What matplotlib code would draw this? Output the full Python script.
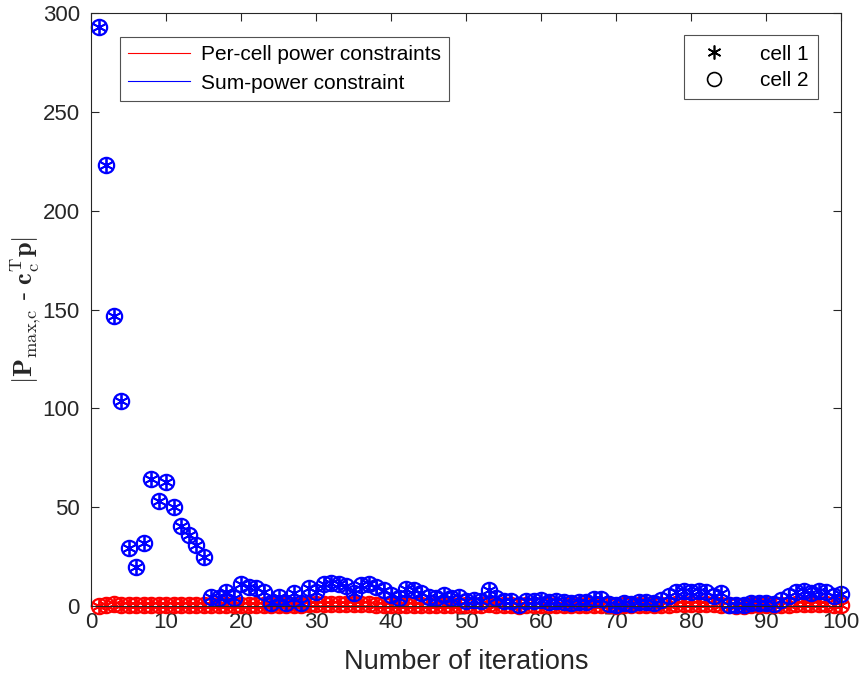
import matplotlib
matplotlib.use("Agg")
import matplotlib.pyplot as plt
import numpy as np
from matplotlib.lines import Line2D

# iterations 1..100
iterations = np.arange(1, 101)

# sum-power constraint, cell 1 / cell 2 (blue)
sum_cell1 = [293, 223, 147, 104, 29.5, 20, 32, 64.5, 53, 63,
             50, 40.5, 36, 31, 25, 4.7, 3.9, 7.3, 3.9, 11,
             9.8, 9, 7.3, 1.4, 4.7, 1.4, 6.4, 1.4, 9, 7.3,
             11, 11.5, 11, 10, 6.4, 10.5, 11, 9.8, 8, 5.6,
             3.9, 8.5, 8, 6.4, 4.7, 3.9, 5.6, 3.9, 4.7, 2.5,
             3, 2.5, 8, 4, 2.7, 2.5, 0.5, 2.7, 2.7, 3,
             2, 2.7, 2, 1.5, 2, 2, 3.5, 3.5, 1, 0.5,
             1.5, 1, 2, 2, 1.5, 3, 5, 7, 7.5, 7,
             7.5, 7, 5, 6.5, 0.5, 0.5, 0.5, 1.5, 1.5, 1.5,
             1, 3, 5, 7, 7.5, 6.5, 7.5, 7, 5, 6]
sum_cell2 = list(sum_cell1)

# per-cell power constraints, cell 1 / cell 2 (red)
per_cell1 = [0.2, 0.3, 0.9, 0.6, 0.5, 0.4, 0.6, 0.5, 0.4, 0.5,
             0.3, 0.4, 0.5, 0.4, 0.3, 0.4, 0.5, 0.4, 0.3, 0.4,
             0.5, 0.4, 0.3, 0.4, 0.5, 0.6, 0.5, 0.7, 0.8, 0.9,
             1.0, 1.0, 0.9, 1.0, 0.8, 0.9, 0.8, 0.7, 0.6, 0.5,
             0.4, 0.5, 0.4, 0.3, 0.4, 0.3, 0.4, 0.3, 0.4, 0.3,
             0.4, 0.6, 0.8, 0.7, 0.5, 0.3, 0.2, 0.3, 0.5, 0.6,
             0.4, 0.3, 0.4, 0.3, 0.4, 0.5, 0.7, 0.5, 0.3, 0.2,
             0.3, 0.4, 0.3, 0.4, 0.3, 0.4, 0.6, 0.8, 0.9, 0.9,
             1.0, 0.9, 0.8, 0.6, 0.3, 0.2, 0.2, 0.3, 0.3, 0.3,
             0.3, 0.5, 0.7, 0.9, 1.0, 0.9, 0.9, 0.8, 0.7, 0.6]
per_cell2 = list(per_cell1)

plt.rcParams['font.family'] = ['Liberation Sans', 'DejaVu Sans']
plt.rcParams['mathtext.fontset'] = 'cm'

fig = plt.figure(figsize=(8.61, 6.81), dpi=100)
ax = fig.add_axes([0.1057, 0.1101, 0.8711, 0.8703])

star = (6, 2, 0)
ms = 11
# per-cell power constraints (red)
ax.plot(iterations, per_cell1, linestyle='none', marker=star, markersize=ms,
        color='red', markeredgewidth=1.3, clip_on=False)
ax.plot(iterations, per_cell2, linestyle='none', marker='o', markersize=ms,
        markerfacecolor='none', markeredgecolor='red', markeredgewidth=1.6,
        clip_on=False)
# sum-power constraint (blue)
ax.plot(iterations, sum_cell1, linestyle='none', marker=star, markersize=ms,
        color='blue', markeredgewidth=1.3, clip_on=False)
ax.plot(iterations, sum_cell2, linestyle='none', marker='o', markersize=ms,
        markerfacecolor='none', markeredgecolor='blue', markeredgewidth=1.6,
        clip_on=False)

ax.set_xlim(0, 100)
ax.set_ylim(0, 300)
ax.set_xticks(np.arange(0, 101, 10))
ax.set_yticks(np.arange(0, 301, 50))

axcol = '#262626'
for s in ax.spines.values():
    s.set_color(axcol)
    s.set_linewidth(0.8)
ax.tick_params(direction='in', top=True, right=True, length=5.5, width=0.8,
               colors=axcol, labelsize=16)
ax.tick_params(axis='y', pad=8)
ax.tick_params(axis='x', pad=4)

ax.set_xlabel('Number of iterations', fontsize=19.5, color=axcol, labelpad=12)
ax.set_ylabel(r'$|\mathbf{P}_{\mathrm{max}{,}\mathrm{c}}$ - $\mathbf{c}_{\mathrm{c}}^{\mathrm{T}}\mathbf{p}|$',
              fontsize=19, color=axcol, labelpad=0)

# legend for constraint types
h1 = [Line2D([], [], color='red', linewidth=0.8),
      Line2D([], [], color='blue', linewidth=0.8)]
leg1 = ax.legend(h1, ['Per-cell power constraints', 'Sum-power constraint'],
                 loc='upper left', bbox_to_anchor=(0.038, 0.96),
                 fontsize=15, frameon=True, fancybox=False,
                 edgecolor=axcol, handlelength=3.0, borderpad=0.4,
                 labelspacing=0.45, handletextpad=0.5, borderaxespad=0)
leg1.get_frame().set_linewidth(0.8)
ax.add_artist(leg1)

# legend for cells
h2 = [Line2D([], [], linestyle='none', marker=star, markersize=10, color='black',
             markeredgewidth=1.2),
      Line2D([], [], linestyle='none', marker='o', markersize=10,
             markerfacecolor='none', markeredgecolor='black',
             markeredgewidth=1.2)]
leg2 = ax.legend(h2, ['cell 1', 'cell 2'], loc='upper right',
                 bbox_to_anchor=(0.969, 0.963), fontsize=15, frameon=True,
                 fancybox=False, edgecolor=axcol, borderpad=0.45,
                 labelspacing=0.35, handletextpad=1.2, borderaxespad=0)
leg2.get_frame().set_linewidth(0.8)

fig.savefig('out.png', dpi=100)
